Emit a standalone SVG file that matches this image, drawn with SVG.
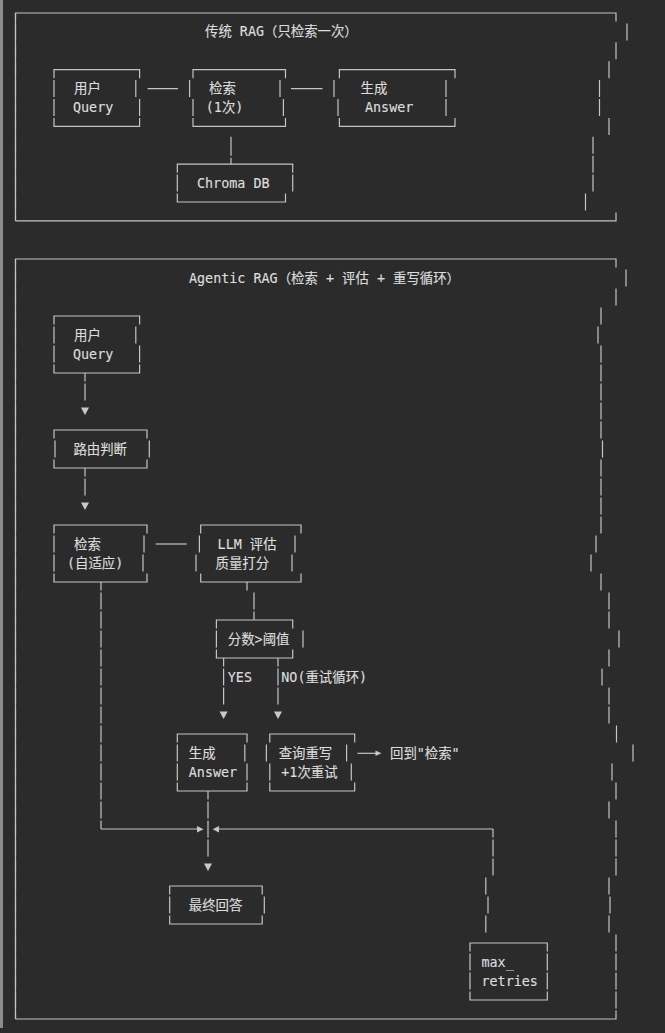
<svg xmlns="http://www.w3.org/2000/svg" width="665" height="1033" viewBox="0 0 665 1033">
<style>
.ln{stroke:#c4c4c4;stroke-width:1.2;fill:none}
.d1{stroke-dasharray:17 1.9;stroke-dashoffset:8.5}
.d2{stroke-dasharray:17 2;stroke-dashoffset:8.5}
.hd{fill:#c8c8c8;stroke:none}
.t{font-family:"DejaVu Sans Mono","Noto Sans CJK SC",monospace;font-size:13.4px;fill:#dcdcdc;stroke:#dcdcdc;stroke-width:0.15}
</style>
<rect width="665" height="1033" fill="#2b2b2b"/>
<rect x="0" y="0" width="3" height="1028" fill="#8c8c8c"/>

<g id="trad-frame">
<path class="ln" d="M15.5 220.9 V13 H616 V21.5"/>
<path class="ln d1" d="M15.5 13 V220.9"/>
<path class="ln" d="M15.5 220.9 H616 V212.4"/>
<path class="ln" d="M627 23.4 V40.4 M616 42.3 V59.3 M609 61.2 V78.2 M599.5 80.1 V97.1 M599.5 99 V116 M609 117.9 V134.9 M593 136.8 V153.8 M593 155.7 V172.7 M593 174.6 V191.6 M585.5 193.5 V210.5"/>
<text class="t" x="205" y="36.4">传统 RAG（只检索一次）</text>
</g>

<g id="trad-query">
<path class="ln" d="M54 78.2 V69.7 H139.6 V78.2 M54 80.1 V97.1 M135.8 80.1 V97.1 M54 99 V116 M139.6 99 V116 M54 117.9 V126.4 H139.6 V117.9"/>
<text class="t" x="74" y="93">用户</text>
<text class="t" x="73" y="112">Query</text>
</g>

<g id="trad-retrieve">
<path class="ln" d="M193 78.2 V69.7 H285.5 V78.2 M189.6 80.1 V97.1 M280 80.1 V97.1 M193 99 V116 M283.4 99 V116 M193 117.9 V126.4 H285.5 V117.9"/>
<text class="t" x="209" y="93">检索</text>
<text class="t" x="205.8" y="112">(1次)</text>
</g>

<g id="trad-generate">
<path class="ln" d="M339.4 78.2 V69.7 H455 V78.2 M334 80.1 V97.1 M446 80.1 V97.1 M338 99 V116 M446 99 V116 M339.4 117.9 V126.4 H455 V117.9"/>
<text class="t" x="360.6" y="93">生成</text>
<text class="t" x="365" y="112">Answer</text>
</g>

<g id="trad-chroma">
<path class="ln" d="M177.3 172.7 V164.2 H292.7 V172.7 M177.3 174.6 V191.6 M292.7 174.6 V191.6 M177.3 193.5 V202 H285.5 V193.5"/>
<text class="t" x="197" y="188">Chroma DB</text>
</g>

<g id="agentic-frame">
<path class="ln" d="M15.5 1019 V259 H616 V267.5"/>
<path class="ln d2" d="M15.5 259 V1019"/>
<path class="ln" d="M15.5 1019 H616 V1010.5"/>
<path class="ln" d="M626 269.5 V286.5 M616 288.5 V305.5 M601 307.5 V324.5 M598 326.5 V343.5 M601 345.5 V362.5 M601 364.5 V381.5 M601 383.5 V400.5 M601 402.5 V419.5 M601 421.5 V438.5 M602.5 440.5 V457.5 M601 459.5 V476.5 M601 478.5 V495.5 M601 497.5 V514.5 M601 516.5 V533.5 M596 535.5 V552.5 M591 554.5 V571.5 M601 573.5 V590.5 M609 592.5 V609.5 M609 611.5 V628.5 M619 630.5 V647.5 M609 649.5 V666.5 M602 668.5 V685.5 M609 687.5 V704.5 M609 706.5 V723.5 M616.5 725.5 V742.5 M633 744.5 V761.5 M612 763.5 V780.5 M616 782.5 V799.5 M609 801.5 V818.5 M616 820.5 V837.5 M616 839.5 V856.5 M616 858.5 V875.5 M609 877.5 V894.5 M610 896.5 V913.5 M609 915.5 V932.5 M616 934.5 V951.5 M616 953.5 V970.5 M616 972.5 V989.5 M616 991.5 V1008.5"/>
<text class="t" x="189" y="282.5">Agentic RAG（检索 + 评估 + 重写循环）</text>
</g>

<g id="ag-query">
<path class="ln" d="M54 324.5 V316 H139.6 V324.5 M54 326.5 V343.5 M135.8 326.5 V343.5 M54 345.5 V362.5 M139.6 345.5 V362.5 M54 364.5 V373 H139.6 V364.5"/>
<text class="t" x="74" y="339.5">用户</text>
<text class="t" x="73" y="358.5">Query</text>
</g>

<g id="ag-router">
<path class="ln" d="M54 438.5 V430 H147 V438.5 M55 440.5 V457.5 M149.3 440.5 V457.5 M54 459.5 V468 H147 V459.5"/>
<text class="t" x="73.4" y="453.5">路由判断</text>
</g>

<g id="ag-retrieve">
<path class="ln" d="M54 533.5 V525 H147 V533.5 M54 535.5 V552.5 M144 535.5 V552.5 M54 554.5 V571.5 M143 554.5 V571.5 M54 573.5 V582 H147 V573.5"/>
<text class="t" x="74" y="548.5">检索</text>
<text class="t" x="67" y="567.5">(自适应)</text>
</g>

<g id="ag-llm">
<path class="ln" d="M200.7 533.5 V525 H301 V533.5 M199.4 535.5 V552.5 M295 535.5 V552.5 M196 554.5 V571.5 M292 554.5 V571.5 M200.7 573.5 V582 H301 V573.5"/>
<text class="t" x="217.6" y="548.5">LLM 评估</text>
<text class="t" x="215.5" y="567.5">质量打分</text>
</g>

<g id="ag-threshold">
<path class="ln" d="M216.4 628.5 V620 H292.7 V628.5 M216.4 630.5 V647.5 M303 630.5 V647.5 M216.4 649.5 V658 H292.7 V649.5"/>
<text class="t" x="227.8" y="643.5">分数&gt;阈值</text>
</g>

<g id="ag-generate">
<path class="ln" d="M177.3 742.5 V734 H247 V742.5 M177.3 744.5 V761.5 M244.8 744.5 V761.5 M177.3 763.5 V780.5 M247 763.5 V780.5 M177.3 782.5 V791 H247 V782.5"/>
<text class="t" x="188.8" y="757.5">生成</text>
<text class="t" x="188.8" y="776.5">Answer</text>
</g>

<g id="ag-rewrite">
<path class="ln" d="M269.8 742.5 V734 H354.7 V742.5 M266.4 744.5 V761.5 M346.6 744.5 V761.5 M269.8 763.5 V780.5 M351.3 763.5 V780.5 M269.8 782.5 V791 H354.7 V782.5"/>
<text class="t" x="278.7" y="757.5">查询重写</text>
<text class="t" x="281.3" y="776.5">+1次重试</text>
</g>

<g id="ag-final">
<path class="ln" d="M169.7 894.5 V886 H262.2 V894.5 M169.7 896.5 V913.5 M264.3 896.5 V913.5 M169.7 915.5 V924 H262.2 V915.5"/>
<text class="t" x="188.8" y="909.5">最终回答</text>
</g>

<g id="ag-maxretries">
<path class="ln" d="M470 951.5 V943 H547.3 V951.5 M470 953.5 V970.5 M547.3 953.5 V970.5 M470 972.5 V989.5 M547.3 972.5 V989.5 M470 991.5 V1000 H547.3 V991.5"/>
<text class="t" x="481.5" y="966.5">max_</text>
<text class="t" x="481.5" y="985.5">retries</text>
</g>

<g id="connectors">
<path class="ln" d="M147.6 88.6 H178 M291 88.6 H322.5 M231 136.8 V155.8 M231 157.7 V164.2"/>
<path class="ln" d="M85 373 V381.5 M85 383.5 V400.5"/>
<polygon class="hd" points="81,407.5 89,407.5 85,415"/>
<path class="ln" d="M85 468 V476.5 M85 478.5 V495.5"/>
<polygon class="hd" points="81,502.5 89,502.5 85,510"/>
<path class="ln" d="M155.7 544 H186.7"/>
<path class="ln" d="M247 582 V590.5 M254 592.5 V609.5 M254 611.5 V620"/>
<path class="ln" d="M223.6 658 V666.5 M223.6 668.5 V685.5 M223.6 687.5 V704.5"/>
<polygon class="hd" points="219.6,711.5 227.6,711.5 223.6,719"/>
<text class="t" x="227.8" y="681.5">YES</text>
<path class="ln" d="M278 658 V666.5 M278 668.5 V685.5 M278 687.5 V704.5"/>
<polygon class="hd" points="274,711.5 282,711.5 278,719"/>
<text class="t" x="281.3" y="681.5">NO(重试循环)</text>
<path class="ln" d="M357.5 753.3 H377"/>
<polygon class="hd" points="375.5,750.6 381.5,753.3 375.5,756"/>
<text class="t" x="390" y="757.5">回到"检索"</text>
<path class="ln d2" d="M101 582 V829"/>
<path class="ln" d="M101 829 H197"/>
<polygon class="hd" points="197,826 203.5,829.3 197,832.6"/>
<path class="ln d2" d="M208 791 V856.5"/>
<polygon class="hd" points="204,863.5 212,863.5 208,871"/>
<path class="ln d2" d="M493 829 V875.5"/>
<path class="ln" d="M485.8 877.5 V894.5 M488 896.5 V913.5 M485.8 915.5 V932.5"/>
<path class="ln" d="M493 829 H219"/>
<polygon class="hd" points="219,826 212.7,829.3 219,832.6"/>
</g>
</svg>
